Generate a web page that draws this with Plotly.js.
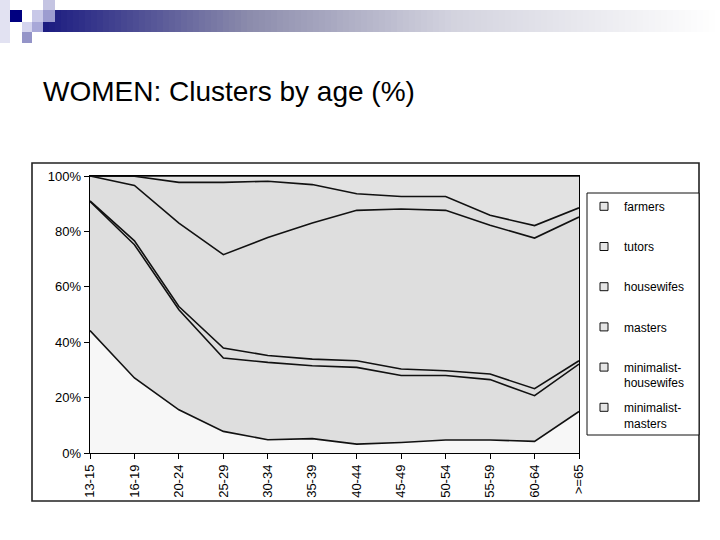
<!DOCTYPE html>
<html>
<head>
<meta charset="utf-8">
<script src="https://cdn.plot.ly/plotly-3.0.1.min.js"></script>
<style>html,body{margin:0;padding:0;background:#fff;}#chart{width:720px;height:540px;}</style>
</head>
<body>
<div id="chart"></div>
<script>
// ---- data (percent of women per cluster, by age group) ----
var ageGroups = ['13-15','16-19','20-24','25-29','30-34','35-39','40-44','45-49','50-54','55-59','60-64','>=65'];
var minimalistMasters    = [44.2, 27.1, 15.6, 7.8, 4.8, 5.2, 3.2, 3.8, 4.7, 4.7, 4.2, 15.0];
var minimalistHousewifes = [46.6, 48.1, 36.1, 26.5, 27.9, 26.3, 27.7, 24.2, 23.3, 21.8, 16.5, 17.1];
var masters              = [0.2, 1.4, 1.2, 3.6, 2.5, 2.4, 2.4, 2.3, 1.7, 2.0, 2.5, 1.2];
var housewifes           = [9.0, 20.0, 30.1, 33.7, 42.6, 49.1, 54.3, 57.8, 57.9, 53.7, 54.4, 51.9];
var tutors               = [0.0, 3.3, 14.7, 26.1, 20.3, 13.9, 6.0, 4.5, 5.0, 3.6, 4.5, 3.3];
var farmers              = [0.0, 0.1, 2.3, 2.3, 1.9, 3.1, 6.4, 7.4, 7.4, 14.2, 17.9, 11.5];
var seriesNames  = ['minimalist-masters','minimalist-housewifes','masters','housewifes','tutors','farmers'];
var legendLabels = ['minimalist-<br>masters','minimalist-<br>housewifes','masters<br> ','housewifes<br> ','tutors<br> ','farmers<br> '];
var seriesValues = [minimalistMasters, minimalistHousewifes, masters, housewifes, tutors, farmers];
var yTickVals = [0, 20, 40, 60, 80, 100];
var yTickText = ['0%', '20%', '40%', '60%', '80%', '100%'];

// ---- geometry helpers (pixel -> paper) ----
var L = 90, R = 141, T = 176, B = 87, W = 720, H = 540;
var pw = W - L - R, ph = H - T - B;
function px(x){ return (x - L) / pw; }
function py(y){ return (H - B - y) / ph; }

var fills = ['#f7f7f7','#dedede','#dedede','#dedede','#dedede','#e2e2e2'];
var traces = [];
seriesValues.forEach(function(vals, i){
  traces.push({
    type:'scatter', mode:'lines', x: ageGroups, y: vals, name: seriesNames[i],
    stackgroup:'one', groupnorm:'percent',
    line:{color:'#111', width:1.6}, fillcolor: fills[i], showlegend:false,
    hoverinfo:'x+y+name'
  });
});
// legend entries (top-down: farmers ... minimalist-masters)
for (var k = seriesNames.length - 1; k >= 0; k--) {
  traces.push({
    type:'scatter', mode:'markers', x:[null], y:[null], name: legendLabels[k],
    legendgroup:'g'+k, showlegend:true,
    marker:{symbol:'square', size:8, color:'#e6e6e6', line:{color:'#111', width:1}}
  });
}

// ---- decorative shapes ----
var shapes = [];
function rectPx(x0,y0,x1,y1,color,line){
  shapes.push({type:'rect', xref:'paper', yref:'paper', x0:px(x0), x1:px(x1), y0:py(y1), y1:py(y0),
    fillcolor:color, line: line || {width:0}, layer:'below'});
}
// banner gradient
var stops = [[43,[26,26,128]],[250,[140,140,172]],[450,[210,210,222]],[720,[255,255,255]]];
function colAt(x){
  for (var s = 0; s < stops.length-1; s++){
    if (x <= stops[s+1][0]) {
      var t = (x - stops[s][0])/(stops[s+1][0]-stops[s][0]);
      var c = stops[s][1].map(function(v,j){ return Math.round(v + t*(stops[s+1][1][j]-v)); });
      return 'rgb('+c.join(',')+')';
    }
  }
  return '#fff';
}
for (var xx = 43; xx < 720; xx += 6) rectPx(xx, 10, Math.min(xx+6.5, 720), 32, colAt(xx+3));
rectPx(0,0,10,43,'#e2e2f2');
rectPx(10,10,22,22,'#000080');
rectPx(32,10,43,22,'#c8c8e8');
rectPx(43,0,55,10,'#c4c4e2');
rectPx(43,10,55,22,'#9c9cd0');
rectPx(22,22,32,32,'#d4d4ee');
rectPx(32,22,43,32,'#a8a8d8');
rectPx(22,32,32,43,'#9494c8');
// chart outer border and legend box
shapes.push({type:'rect', xref:'paper', yref:'paper', x0:px(32), x1:px(699), y0:py(501), y1:py(163),
  line:{color:'#222', width:1.6}, fillcolor:'rgba(0,0,0,0)', layer:'below'});
shapes.push({type:'rect', xref:'paper', yref:'paper', x0:px(587), x1:px(699), y0:py(435), y1:py(193),
  line:{color:'#111', width:1}, fillcolor:'#fff', layer:'below'});

var layout = {
  width: W, height: H,
  margin:{l:L, r:R, t:T, b:B, autoexpand:false},
  paper_bgcolor:'#fff', plot_bgcolor:'#fff',
  font:{family:'"Liberation Sans", Arial, sans-serif', color:'#000', size:12},
  title:{text:'WOMEN: Clusters by age (%)', x:43/W, xanchor:'left', xref:'container',
    y:1-91/H, yanchor:'middle', yref:'container', font:{size:28, color:'#000'}},
  xaxis:{type:'category', categoryarray: ageGroups, range:[0, ageGroups.length-1],
    tickangle:-90, ticks:'outside', ticklen:5, tickcolor:'#000', tickwidth:1,
    showline:true, linecolor:'#000', linewidth:1.4, mirror:true, showgrid:false,
    tickfont:{size:13}, fixedrange:true},
  yaxis:{range:[0,100], tickmode:'array', tickvals: yTickVals, ticktext: yTickText, ticks:'outside', ticklen:5,
    tickcolor:'#000', showline:true, linecolor:'#000', linewidth:1.4, mirror:true,
    showgrid:false, zeroline:false, tickfont:{size:13}, fixedrange:true},
  legend:{x:px(584), xanchor:'left', y:py(192), yanchor:'top', bgcolor:'rgba(0,0,0,0)',
    borderwidth:0, traceorder:'grouped', tracegroupgap:6, valign:'top',
    font:{size:12, color:'#000'}, itemwidth:30},
  shapes: shapes,
  showlegend:true
};
Plotly.newPlot('chart', traces, layout, {staticPlot:true, displayModeBar:false});
</script>
</body>
</html>
